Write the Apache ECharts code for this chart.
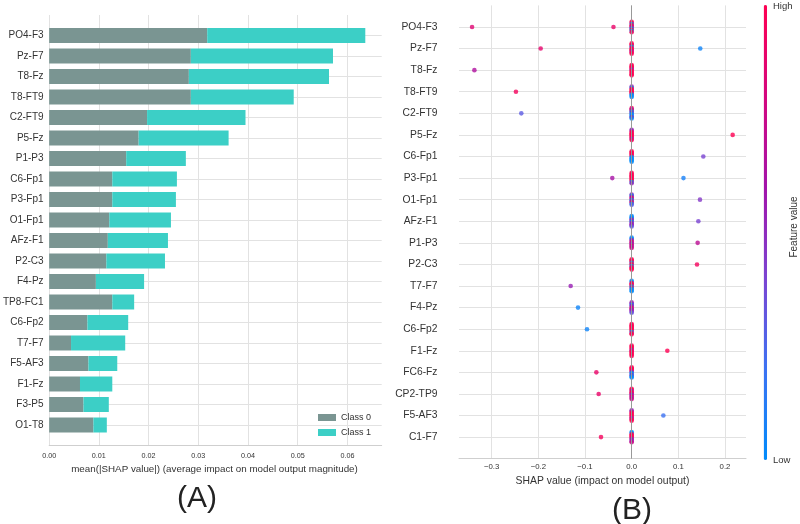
<!DOCTYPE html>
<html><head><meta charset="utf-8">
<script src="https://cdn.jsdelivr.net/npm/echarts@6/dist/echarts.min.js"></script>
<style>html,body{margin:0;padding:0;background:#fff}#c{width:800px;height:524px}</style>
</head><body><div id="c"></div>
<script>
// ---- Panel (A): mean |SHAP| per feature, stacked by class (top to bottom)
const barFeatures = ['PO4-F3','Pz-F7','T8-Fz','T8-FT9','C2-FT9','P5-Fz','P1-P3','C6-Fp1','P3-Fp1','O1-Fp1','AFz-F1','P2-C3','F4-Pz','TP8-FC1','C6-Fp2','T7-F7','F5-AF3','F1-Fz','F3-P5','O1-T8'];
const class0 = [0.0318,0.0285,0.0281,0.0285,0.0197,0.0180,0.0155,0.0127,0.0127,0.0121,0.0118,0.0115,0.0094,0.0127,0.0077,0.0044,0.0079,0.0062,0.0069,0.0089];
const class1 = [0.0318,0.0286,0.0282,0.0207,0.0198,0.0181,0.0120,0.0130,0.0128,0.0124,0.0121,0.0118,0.0097,0.0044,0.0082,0.0109,0.0058,0.0065,0.0051,0.0027];
const legendNames = ['Class 0','Class 1'];

// ---- Panel (B): SHAP summary (top to bottom)
const swarmFeatures = ['PO4-F3','Pz-F7','T8-Fz','T8-FT9','C2-FT9','P5-Fz','C6-Fp1','P3-Fp1','O1-Fp1','AFz-F1','P1-P3','P2-C3','T7-F7','F4-Pz','C6-Fp2','F1-Fz','FC6-Fz','CP2-TP9','F5-AF3','C1-F7'];
// points away from zero: row index, SHAP value, feature value (0 low .. 1 high)
const outlierRow   = [0,0,1,1,2,3,4,5,6,7,7,8,9,10,11,12,13,14,15,16,17,18,19];
const outlierShap  = [-0.342,-0.039,-0.195,0.147,-0.337,-0.248,-0.2365,0.2164,0.1535,-0.0415,0.111,0.1464,0.1429,0.1414,0.140,-0.1307,-0.115,-0.0957,0.0764,-0.0757,-0.0707,0.0679,-0.0657];
const outlierValue = [0.85,0.9,0.88,0.05,0.65,0.95,0.3,1.0,0.4,0.62,0.08,0.45,0.4,0.7,0.95,0.55,0.05,0.05,1.0,0.9,0.9,0.2,0.95];
// points at SHAP = 0: colour sequence top-to-bottom per row (R high, M, P mid, V, B low)
const zeroCluster = ['RRBRRPBRBR','RRRBRRRPRR','RRRRPRRRRR','PBRRRRRBBB','RPRBPBBBPB','PPRRRRRRPR','RRRRRBBBBB','RRRRRRRRBP','PBPRPBPRBV','BBBPPBPPPV',
                     'BBPPRPPRPM','RRRBRRBRRR','BBRRRBRBBB','PPBPPRPPPV','RRRRRRRBRR','RRRRPRRRRR','RRRRPBBPBB','RRPRRPPRPM','PPRRRRRPRR','BBRRRRPPPM'];
const codeValue = {R:1.0, M:0.78, P:0.55, V:0.3, B:0.0};
const xTicksB = [-0.3,-0.2,-0.1,0,0.1,0.2];

const NB = barFeatures.length;
const catsA = [''].concat(barFeatures.slice().reverse(), ['']);
const c0Data = ['-'].concat(class0.slice().reverse(), ['-']);
const c1Data = ['-'].concat(class1.slice().reverse(), ['-']);

const NS = swarmFeatures.length;
const clusterData = [];
zeroCluster.forEach((s, r) => {
  const n = s.length;
  for (let k = 0; k < n; k++) {
    const off = 0.24 - k * (0.48 / (n - 1));
    clusterData.push([0, (NS - 1 - r) + off, codeValue[s[k]]]);
  }
});
const outData = outlierRow.map((r, i) => [outlierShap[i], NS - 1 - r, outlierValue[i]]);

const FONT = 'Liberation Sans, Arial, sans-serif';
const gridColor = '#e2e2e2';
const txt = '#333';

const chart = echarts.init(document.getElementById('c'), null, {renderer: 'canvas'});
chart.setOption({
  animation: false,
  textStyle: {fontFamily: FONT},
  grid: [
    {left: 47.3, right: 418.3, top: 15, bottom: 78.5},
    {left: 459, right: 54, top: 5.4, bottom: 65.3}
  ],
  legend: {
    data: legendNames, orient: 'vertical', left: 318, top: 412.5,
    itemWidth: 18, itemHeight: 7, itemGap: 5, icon: 'rect', padding: 0,
    textStyle: {fontSize: 9, color: txt, fontFamily: FONT, lineHeight: 10}
  },
  xAxis: [
    {gridIndex: 0, type: 'value', min: 0, max: 0.0669, interval: 0.01,
     axisLine: {show: true, lineStyle: {color: '#cfcfcf'}}, axisTick: {show: false},
     axisLabel: {fontSize: 7.2, color: txt, margin: 7, showMaxLabel: false, formatter: v => v.toFixed(2)},
     splitLine: {show: true, showMaxLine: false, lineStyle: {color: gridColor, width: 1}}},
    {gridIndex: 1, type: 'value', min: -0.37, max: 0.245,
     axisLine: {show: true, onZero: false, lineStyle: {color: '#cfcfcf'}}, axisTick: {show: false, customValues: xTicksB},
     axisLabel: {fontSize: 7.8, color: txt, margin: 4, showMinLabel: true, showMaxLabel: true,
       customValues: xTicksB,
       formatter: v => (v < -1e-9 ? '\u2212' + Math.abs(v).toFixed(1) : Math.abs(v).toFixed(1))},
     splitLine: {show: true, showMinLine: true, showMaxLine: true, lineStyle: {color: gridColor, width: 1}}}
  ],
  yAxis: [
    {gridIndex: 0, type: 'category', data: catsA, boundaryGap: false,
     axisLine: {show: false}, axisTick: {show: false},
     axisLabel: {fontSize: 10, color: txt, margin: 5.6, interval: 0},
     splitLine: {show: true, interval: (i) => i >= 1 && i <= NB, lineStyle: {color: gridColor, width: 1}}},
    {gridIndex: 1, type: 'value', min: -1, max: NS, interval: 1,
     axisLine: {show: false}, axisTick: {show: false},
     axisLabel: {fontSize: 10.3, color: txt, margin: 21.5,
       formatter: v => (v >= 0 && v <= NS - 1) ? swarmFeatures[NS - 1 - v] : ''},
     splitLine: {show: true, showMinLine: false, showMaxLine: false, lineStyle: {color: gridColor, width: 1}}}
  ],
  visualMap: {
    type: 'continuous', min: 0, max: 1, dimension: 2, seriesIndex: [3, 4],
    inRange: {color: ['#008bfb', '#3c72f3', '#7b44d2', '#a313aa', '#d5067e', '#ff0052']},
    orient: 'vertical', left: 763.7, top: 5, itemWidth: 3.4, itemHeight: 455,
    calculable: false, padding: 0, hoverLink: false, text: null, showLabel: false
  },
  series: [
    {name: legendNames[0], type: 'bar', stack: 'a', xAxisIndex: 0, yAxisIndex: 0, barWidth: 15,
     itemStyle: {color: '#7a9592'}, data: c0Data},
    {name: legendNames[1], type: 'bar', stack: 'a', xAxisIndex: 0, yAxisIndex: 0, barWidth: 15,
     itemStyle: {color: '#3ccfc6'}, data: c1Data},
    {type: 'line', xAxisIndex: 1, yAxisIndex: 1, data: [], z: 1, silent: true,
     markLine: {silent: true, symbol: 'none', label: {show: false},
       lineStyle: {color: '#999999', width: 1, type: 'solid'}, data: [{xAxis: 0}]}},
    {type: 'scatter', xAxisIndex: 1, yAxisIndex: 1, symbolSize: 4.6, z: 3, data: clusterData},
    {type: 'scatter', xAxisIndex: 1, yAxisIndex: 1, symbolSize: 4.6, z: 4, data: outData}
  ],
  graphic: [
    {type: 'text', x: 214.5, y: 469.5, style: {text: 'mean(|SHAP value|) (average impact on model output magnitude)', fontSize: 9.8, fill: txt, fontFamily: FONT, align: 'center', verticalAlign: 'middle'}},
    {type: 'text', x: 602.5, y: 481, style: {text: 'SHAP value (impact on model output)', fontSize: 10.4, fill: txt, fontFamily: FONT, align: 'center', verticalAlign: 'middle'}},
    {type: 'text', x: 197, y: 499, style: {text: '(A)', fontSize: 30, fill: '#222', fontFamily: FONT, align: 'center', verticalAlign: 'middle'}},
    {type: 'text', x: 632, y: 511, style: {text: '(B)', fontSize: 30, fill: '#222', fontFamily: FONT, align: 'center', verticalAlign: 'middle'}},
    {type: 'text', x: 773, y: 6, style: {text: 'High', fontSize: 9.5, fill: txt, fontFamily: FONT, align: 'left', verticalAlign: 'middle'}},
    {type: 'text', x: 773, y: 460, style: {text: 'Low', fontSize: 9.5, fill: txt, fontFamily: FONT, align: 'left', verticalAlign: 'middle'}},
    {type: 'text', x: 794, y: 227, rotation: Math.PI / 2, style: {text: 'Feature value', fontSize: 10, fill: txt, fontFamily: FONT, align: 'center', verticalAlign: 'middle'}}
  ]
});
</script>
</body></html>
